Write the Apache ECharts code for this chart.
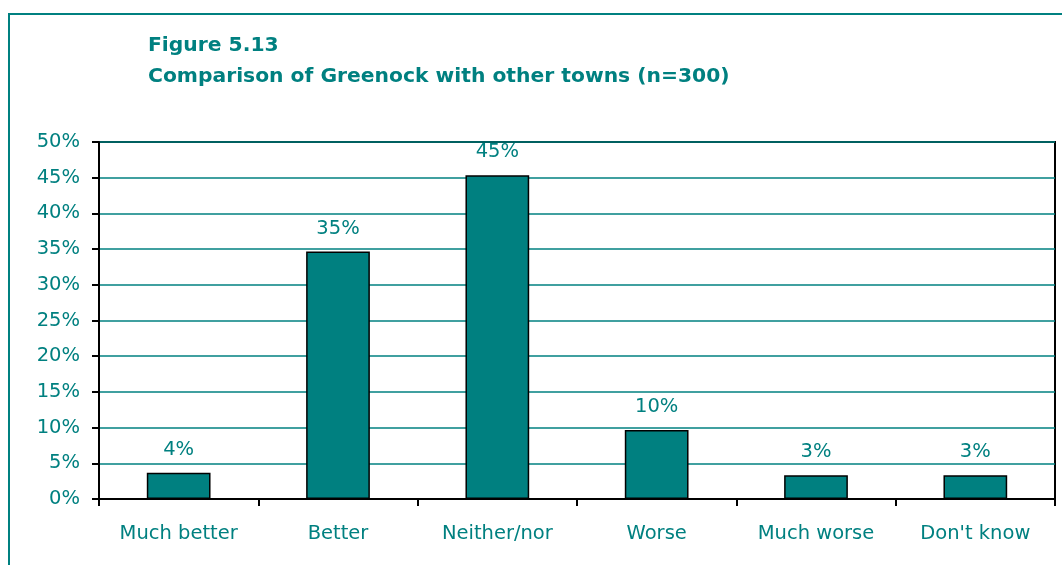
<!DOCTYPE html>
<html>
<head>
<meta charset="utf-8">
<script src="https://cdn.jsdelivr.net/npm/echarts@6/dist/echarts.min.js"></script>
<style>
  html, body { margin: 0; padding: 0; background: #fff; }
  #chart { width: 1062px; height: 565px; }
</style>
</head>
<body>
<div id="chart"></div>
<script>
// Survey answers: how Greenock compares with other towns (n=300)
const categories = ['Much better', 'Better', 'Neither/nor', 'Worse', 'Much worse', "Don't know"];
const respondents = [11, 104, 136, 29, 10, 10];
const sampleSize = 300;
const shares = respondents.map(n => n / sampleSize * 100);
const yTicks = [0, 5, 10, 15, 20, 25, 30, 35, 40, 45, 50];

const teal = '#008080';
const fontFamily = 'Tahoma, "DejaVu Sans", Verdana, sans-serif';

const chart = echarts.init(document.getElementById('chart'), null, { renderer: 'canvas' });

chart.setOption({
  animation: false,
  backgroundColor: '#fff',
  graphic: [
    {
      type: 'rect',
      shape: { x: 9, y: 14, width: 1100, height: 600 },
      style: { fill: 'none', stroke: teal, lineWidth: 2 },
      z: 0
    },
    {
      type: 'text',
      left: 148,
      top: 30,
      style: {
        text: 'Figure 5.13\nComparison of Greenock with other towns (n=300)',
        fill: teal,
        font: 'bold 20.3px ' + fontFamily,
        lineHeight: 31
      }
    }
  ],
  grid: {
    left: 99,
    top: 142,
    right: 7,
    bottom: 66,
    show: true,
    borderColor: '#000',
    borderWidth: 2,
    backgroundColor: 'transparent'
  },
  xAxis: {
    type: 'category',
    data: categories,
    axisLine: { lineStyle: { color: '#000', width: 2 } },
    axisTick: { show: true, alignWithLabel: false, length: 7, lineStyle: { color: '#000', width: 2 } },
    axisLabel: { color: teal, fontSize: 19.5, fontFamily: fontFamily, margin: 25, interval: 0 },
    splitLine: { show: false }
  },
  yAxis: {
    type: 'value',
    min: yTicks[0],
    max: yTicks[yTicks.length - 1],
    interval: yTicks[1] - yTicks[0],
    axisLine: { show: true, lineStyle: { color: '#000', width: 2 } },
    axisTick: { show: true, length: 7, lineStyle: { color: '#000', width: 2 } },
    axisLabel: { color: teal, fontSize: 19.5, fontFamily: fontFamily, margin: 19, formatter: v => v + '%' },
    splitLine: { show: true, lineStyle: { color: teal, width: 1.5 } }
  },
  series: [{
    type: 'bar',
    data: shares,
    barWidth: '40%',
    itemStyle: { color: teal, borderColor: '#000', borderWidth: 1.5 },
    label: {
      show: true,
      position: 'top',
      distance: 13,
      color: teal,
      fontSize: 19.5,
      fontFamily: fontFamily,
      formatter: p => Math.round(p.value) + '%'
    },
    z: 3
  }]
});
</script>
</body>
</html>
